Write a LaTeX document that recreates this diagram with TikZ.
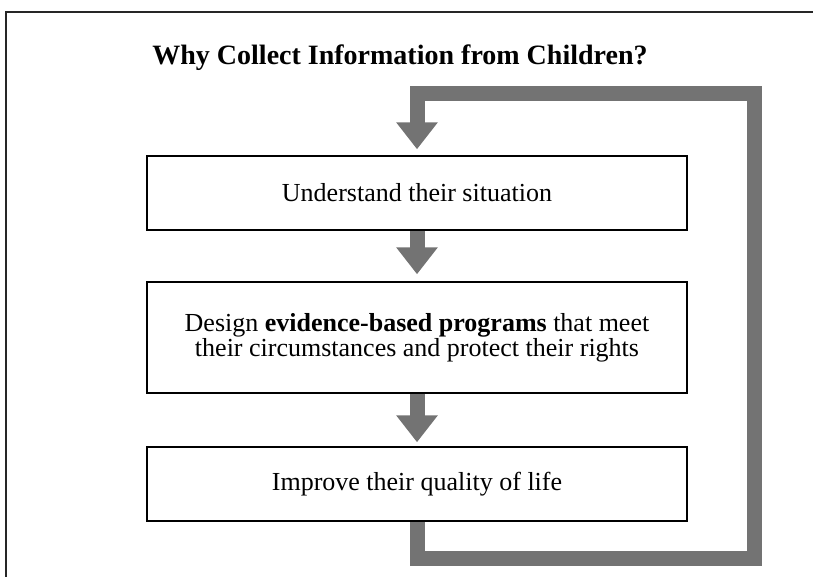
\documentclass[tikz,border=0pt]{standalone}
\usepackage{fontspec}
\setmainfont{Liberation Serif}
\usetikzlibrary{arrows.meta}

\tikzset{
  stage/.style={draw=black,line width=1.5pt,minimum width=540pt,inner sep=0pt,align=center,
    font=\fontsize{26}{22}\selectfont},
  flow/.style={draw=black!55,line width=15pt,-{Triangle[width=40pt,length=27pt]}}
}

\begin{document}
\begin{tikzpicture}[x=1pt,y=-1pt]
\useasboundingbox (0,0) rectangle (813,576);
% outer frame
\draw[black!85,line width=2pt](6,590)--(6,12)--(830,12);
\node at (400,64) [anchor=base][font=\bfseries\fontsize{28}{30}\selectfont] (title) {Why Collect Information from Children?};
% stages
\node at (417,193) [stage][minimum height=74pt] (know) {Understand their situation};
\node at (417,337.5) [stage][minimum height=111pt] (design) {Design \textbf{evidence-based programs} that meet\\their circumstances and protect their rights};
\node at (417,484) [stage][minimum height=74pt] (improve) {Improve their quality of life};
% arrows
\draw[flow,shorten >=7pt](know.south)--(design.north);
\draw[flow,shorten >=4pt](design.south)--(improve.north);
\draw[flow,shorten >=6pt](improve.south)|-(754,558)--(754,93)-|(know.north);
\end{tikzpicture}
\end{document}
